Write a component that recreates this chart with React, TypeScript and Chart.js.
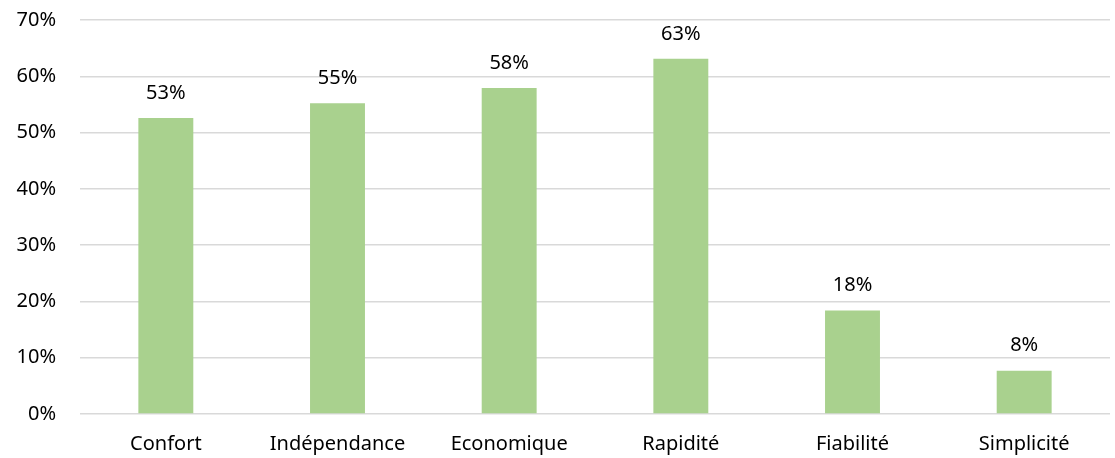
import React, { useEffect, useRef } from "react";
import { Chart, registerables } from "chart.js";

Chart.register(...registerables);

const categories = ["Confort", "Indépendance", "Economique", "Rapidité", "Fiabilité", "Simplicité"];
const values = [52.6, 55.2, 57.9, 63.1, 18.4, 7.7];
const valueLabels = ["53%", "55%", "58%", "63%", "18%", "8%"];
const yTicks = [0, 10, 20, 30, 40, 50, 60, 70];

const FONT = "'Noto Sans', sans-serif";

const labelPlugin = {
  id: "barLabels",
  afterDatasetsDraw(chart: any) {
    const ctx = chart.ctx;
    const meta = chart.getDatasetMeta(0);
    ctx.save();
    ctx.font = `20px ${FONT}`;
    ctx.fillStyle = "#000000";
    ctx.textAlign = "center";
    ctx.textBaseline = "middle";
    meta.data.forEach((bar: any, i: number) => {
      ctx.fillText(valueLabels[i], bar.x, bar.y - 25);
    });
    ctx.restore();
  },
};

export default function App() {
  const ref = useRef<HTMLCanvasElement | null>(null);
  useEffect(() => {
    document.body.style.margin = "0";
    const chart = new Chart(ref.current as HTMLCanvasElement, {
      type: "bar",
      data: {
        labels: categories,
        datasets: [
          {
            data: values,
            backgroundColor: "#A9D18E",
            borderWidth: 0,
            barPercentage: 0.32,
            categoryPercentage: 1,
          },
        ],
      },
      options: {
        animation: false,
        responsive: false,
        maintainAspectRatio: false,
        layout: { padding: { top: 20, right: 5, left: 0, bottom: 0 } },
        plugins: { legend: { display: false }, tooltip: { enabled: false } },
        scales: {
          x: {
            grid: { display: false, drawTicks: false },
            border: { display: false },
            ticks: { color: "#000000", font: { family: FONT, size: 20 }, padding: 18, maxRotation: 0 },
            afterFit(scale: any) {
              scale.height = 44;
              scale.paddingLeft = 0;
              scale.paddingRight = 0;
            },
          },
          y: {
            min: 0,
            max: 70,
            afterBuildTicks(scale: any) {
              scale.ticks = yTicks.map((v) => ({ value: v }));
            },
            grid: { color: "#D9D9D9", lineWidth: 1.5, drawTicks: false },
            border: { display: false },
            ticks: {
              color: "#000000",
              font: { family: FONT, size: 20 },
              padding: 24,
              callback: (v: any) => `${v}%`,
            },
            afterFit(scale: any) {
              scale.width = 80;
              scale.paddingTop = 0;
              scale.paddingBottom = 0;
            },
          },
        },
      },
      plugins: [labelPlugin],
    });
    return () => chart.destroy();
  }, []);
  return (
    <div style={{ width: 1115, height: 458 }}>
      <canvas ref={ref} width={1115} height={458} style={{ width: 1115, height: 458 }} />
    </div>
  );
}
